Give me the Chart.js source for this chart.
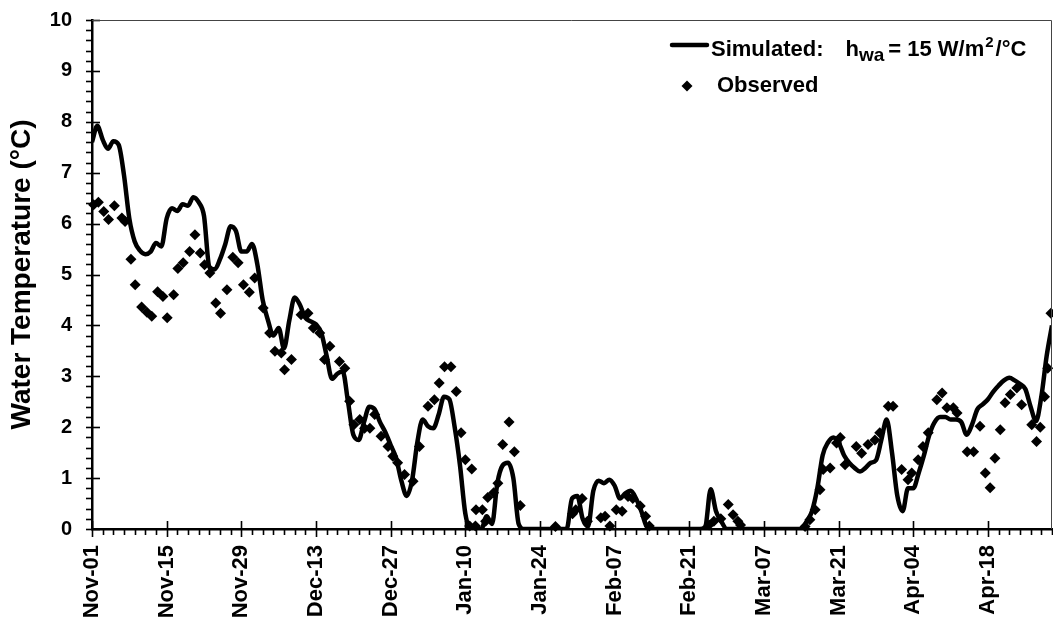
<!DOCTYPE html>
<html>
<head>
<meta charset="utf-8">
<title>Water Temperature</title>
<script src="https://cdn.jsdelivr.net/npm/chart.js@4.4.1/dist/chart.umd.min.js"></script>
<style>
  html, body { margin: 0; padding: 0; background: #fff; }
  #wrap { width: 1053px; height: 632px; }
</style>
</head>
<body>
<div id="wrap"><canvas id="chart" width="1053" height="632"></canvas></div>
<script>
// Tick labels along the date axis (one every 14 days from Nov-01)
const xTickLabels = ['Nov-01', 'Nov-15', 'Nov-29', 'Dec-13', 'Dec-27', 'Jan-10', 'Jan-24',
                     'Feb-07', 'Feb-21', 'Mar-07', 'Mar-21', 'Apr-04', 'Apr-18'];

// Simulated daily water temperature (°C), day 0 = Nov-01
const simTemp = [
  7.6, 7.92, 7.65, 7.47, 7.62, 7.55, 6.95, 6.1, 5.65, 5.47,
  5.4, 5.45, 5.62, 5.55, 6.1, 6.3, 6.25, 6.38, 6.35, 6.52,
  6.42, 6.15, 5.15, 5.1, 5.3, 5.6, 5.95, 5.85, 5.45, 5.45,
  5.6, 5.2, 4.5, 4.1, 3.8, 3.95, 3.55, 4.1, 4.55, 4.4,
  4.15, 4.08, 4.02, 3.85, 3.4, 2.95, 3.05, 3.1, 2.5, 1.85,
  1.75, 2.1, 2.4, 2.35, 2.1, 1.9, 1.65, 1.4, 0.95, 0.65,
  0.95, 1.7, 2.15, 2.02, 1.98, 2.25, 2.6, 2.55, 2.0, 1.25,
  0.3, 0, 0, 0, 0.25, 0.1, 0.9, 1.25, 1.3, 1.0,
  0.1, 0, 0, 0, 0, 0, 0, 0, 0, 0,
  0.6, 0.65, 0.2, 0.05, 0.75, 0.95, 0.9, 0.97, 0.85, 0.6,
  0.7, 0.75, 0.6, 0.35, 0.05, 0, 0, 0, 0, 0,
  0, 0, 0, 0, 0, 0.05, 0.78, 0.35, 0.15, 0,
  0, 0, 0, 0, 0, 0, 0, 0, 0, 0,
  0, 0, 0, 0, 0.15, 0.35, 0.8, 1.45, 1.7, 1.8,
  1.7, 1.45, 1.3, 1.2, 1.13, 1.2, 1.3, 1.35, 1.75, 2.15,
  1.5, 0.65, 0.35, 0.8, 0.8, 1.1, 1.45, 1.85, 2.1, 2.2,
  2.2, 2.15, 2.15, 2.1, 1.85, 2.05, 2.35, 2.45, 2.55, 2.7,
  2.82, 2.92, 2.97, 2.92, 2.85, 2.75, 2.4, 2.12, 2.6, 3.4, 4.0
];

// Observed water temperature: day since Nov-01 and value (°C)
const obsDay = [
  0.3, 1.2, 2.2, 3.1, 4.2, 5.6, 6.2, 7.3, 8.1, 9.3, 10.3, 11.2, 12.3, 13.3, 14.1, 15.3,
  16.1, 17.1, 18.3, 19.3, 20.3, 21.1, 22.1, 23.2, 24.1, 25.3, 26.4, 27.4, 28.4, 29.5,
  30.5, 32.1, 33.3, 34.3, 35.5, 36.1, 37.4, 39.2, 40.5, 41.5, 42.7, 43.6, 44.6, 46.4,
  47.4, 48.3, 49.1, 50.2, 51.1, 52.1, 53.0, 54.2, 55.5, 56.4, 57.3, 58.6, 60.2, 61.4,
  63.0, 64.2, 65.1, 66.1, 67.3, 68.3, 69.2, 70.0, 71.2, 70.8, 71.9, 72.0, 73.2, 73.8,
  74.2, 75.3, 76.1, 77.0, 78.2, 79.2, 80.3, 86.9, 90.1, 90.7, 91.9, 92.9, 95.4, 96.2,
  97.1, 98.3, 99.4, 100.5, 101.4, 102.8, 103.8, 104.5, 115.7, 116.6, 117.9, 119.3,
  120.2, 121.1, 121.6, 133.7, 134.6, 135.6, 136.5, 137.1, 138.4, 139.6, 140.3, 141.2,
  143.3, 144.3, 145.5, 146.8, 147.7, 149.3, 150.2, 151.8, 153.0, 153.7, 154.9, 155.8,
  156.8, 158.4, 159.4, 160.3, 161.5, 162.2, 164.1, 165.3, 166.5, 167.5, 168.4, 169.3,
  170.3, 171.2, 172.2, 173.4, 174.3, 176.2, 177.1, 177.8, 178.6, 179.2, 179.8
];
const obsTemp = [
  6.37, 6.42, 6.24, 6.08, 6.35, 6.11, 6.04, 5.3, 4.8, 4.36, 4.26, 4.18, 4.66, 4.57, 4.15, 4.6,
  5.12, 5.23, 5.45, 5.78, 5.42, 5.19, 5.03, 4.44, 4.24, 4.7, 5.34, 5.23, 4.8, 4.65,
  4.93, 4.34, 3.85, 3.49, 3.46, 3.13, 3.33, 4.21, 4.24, 3.95, 3.85, 3.33, 3.59, 3.29,
  3.16, 2.51, 2.05, 2.15, 1.98, 1.98, 2.25, 1.82, 1.62, 1.43, 1.3, 1.07, 0.94, 1.62,
  2.41, 2.54, 2.87, 3.19, 3.19, 2.7, 1.89, 1.36, 1.18, 0.06, 0.06, 0.38, 0.38, 0.15,
  0.62, 0.71, 0.9, 1.66, 2.1, 1.52, 0.46, 0.05, 0.3, 0.38, 0.6, 0.15, 0.22, 0.25,
  0.06, 0.38, 0.35, 0.64, 0.6, 0.45, 0.25, 0.06, 0.08, 0.15, 0.2, 0.48,
  0.28, 0.15, 0.08, 0.05, 0.18, 0.38, 0.77, 1.17, 1.2, 1.69, 1.8, 1.26,
  1.62, 1.49, 1.66, 1.75, 1.89, 2.41, 2.41, 1.17, 0.97, 1.1, 1.36, 1.62,
  1.89, 2.54, 2.67, 2.38, 2.38, 2.28, 1.52, 1.52, 2.02, 1.1, 0.81, 1.39,
  1.95, 2.48, 2.64, 2.77, 2.44, 2.05, 1.72, 2.0, 2.6, 3.16, 4.24
];

const FONT = '"Liberation Sans", Arial, Helvetica, sans-serif';

// Minor/major tick marks crossing the axes, plus the thin plot frame
const axisMarks = {
  id: 'axisMarks',
  afterDatasetsDraw(chart) {
    const { ctx, chartArea: a, scales: { x, y } } = chart;
    ctx.save();
    ctx.strokeStyle = '#000';
    ctx.lineWidth = 1.6;
    for (let d = 0; d <= x.max; d += 2) {
      const px = Math.round(x.getPixelForValue(d)) + 0.5;
      const major = d % 14 === 0;
      ctx.beginPath();
      ctx.moveTo(px, major ? a.bottom - 8 : a.bottom);
      ctx.lineTo(px, a.bottom + (major ? 8 : 6));
      ctx.stroke();
    }
    for (let i = 0; i <= 50; i++) {
      const py = Math.round(y.getPixelForValue(i / 5)) + 0.5;
      const major = i % 5 === 0;
      ctx.beginPath();
      ctx.moveTo(a.left - 6, py);
      ctx.lineTo(major ? a.left + 8 : a.left, py);
      ctx.stroke();
    }
    // frame along top and right
    ctx.strokeStyle = '#444';
    ctx.lineWidth = 1;
    ctx.beginPath();
    ctx.moveTo(a.left, a.top + 0.5);
    ctx.lineTo(a.right - 0.5, a.top + 0.5);
    ctx.lineTo(a.right - 0.5, a.bottom);
    ctx.stroke();
    ctx.restore();
  }
};

// Legend with subscript/superscript text
const richLegend = {
  id: 'richLegend',
  afterDraw(chart) {
    const { ctx, chartArea: a } = chart;
    const main = 'bold 22px ' + FONT;
    const sub = 'bold 19px ' + FONT;
    const sup = 'bold 15px ' + FONT;
    const x0 = a.right - 382;
    const y1 = a.top + 36;   // baseline of first entry
    const y2 = a.top + 72;   // baseline of second entry
    ctx.save();
    ctx.fillStyle = '#000';
    ctx.strokeStyle = '#000';
    ctx.lineWidth = 4.5;
    ctx.lineCap = 'round';
    ctx.beginPath();
    ctx.moveTo(x0 + 2, y1 - 11);
    ctx.lineTo(x0 + 37, y1 - 11);
    ctx.stroke();

    const parts = [
      { t: 'Simulated:', f: main, dy: 0, gap: 0 },
      { t: 'h', f: main, dy: 0, gap: 22 },
      { t: 'wa', f: sub, dy: 5, gap: 0 },
      { t: '= 15 W/m', f: main, dy: 0, gap: 4 },
      { t: '2', f: sup, dy: -9, gap: 1 },
      { t: '/°C', f: main, dy: 0, gap: 2 }
    ];
    ctx.textBaseline = 'alphabetic';
    ctx.textAlign = 'left';
    let cx = x0 + 41;
    parts.forEach(p => {
      cx += p.gap;
      ctx.font = p.f;
      ctx.fillText(p.t, cx, y1 + p.dy);
      cx += ctx.measureText(p.t).width;
    });

    // diamond marker
    const dx = x0 + 17, dy = y2 - 6, r = 5.5;
    ctx.beginPath();
    ctx.moveTo(dx, dy - r);
    ctx.lineTo(dx + r, dy);
    ctx.lineTo(dx, dy + r);
    ctx.lineTo(dx - r, dy);
    ctx.closePath();
    ctx.fill();
    ctx.font = main;
    ctx.fillText('Observed', x0 + 47, y2);
    ctx.restore();
  }
};

new Chart(document.getElementById('chart'), {
  type: 'line',
  data: {
    datasets: [
      {
        label: 'Simulated',
        data: simTemp.map((v, i) => ({ x: i, y: v })),
        borderColor: '#000',
        borderWidth: 4.5,
        pointRadius: 0,
        cubicInterpolationMode: 'monotone',
        order: 1
      },
      {
        label: 'Observed',
        data: obsDay.map((d, i) => ({ x: d, y: obsTemp[i] })),
        showLine: false,
        pointStyle: 'rectRot',
        pointRadius: 5.5,
        backgroundColor: '#000',
        borderWidth: 0,
        clip: 8,
        order: 2
      }
    ]
  },
  options: {
    responsive: false,
    animation: false,
    devicePixelRatio: 1,
    layout: { autoPadding: false, padding: { top: 20, right: 1, left: 0, bottom: 0 } },
    plugins: { legend: { display: false }, tooltip: { enabled: false } },
    scales: {
      x: {
        type: 'linear',
        min: 0,
        max: 180,
        afterFit(s) {
          s.height = 103;
          s.paddingLeft = 0;
          s.paddingRight = 0;
        },
        grid: { display: false, drawTicks: false },
        border: { display: true, color: '#000', width: 2.5 },
        ticks: {
          stepSize: 14,
          includeBounds: false,
          autoSkip: false,
          maxRotation: 90,
          minRotation: 90,
          padding: 16,
          color: '#000',
          font: { family: FONT, size: 22, weight: 'bold' },
          callback: v => xTickLabels[Math.round(v / 14)] ?? ''
        }
      },
      y: {
        min: 0,
        max: 10,
        afterFit(s) {
          s.width = 92;
          s.paddingTop = 0;
          s.paddingBottom = 0;
        },
        grid: { display: false, drawTicks: false },
        border: { display: true, color: '#000', width: 2.5 },
        ticks: {
          stepSize: 1,
          padding: 20,
          color: '#000',
          font: { family: FONT, size: 20, weight: 'bold' }
        },
        title: {
          display: true,
          text: 'Water Temperature (°C)',
          color: '#000',
          padding: { top: 5, bottom: 0 },
          font: { family: FONT, size: 28, weight: 'bold' }
        }
      }
    }
  },
  plugins: [axisMarks, richLegend]
});
</script>
</body>
</html>
